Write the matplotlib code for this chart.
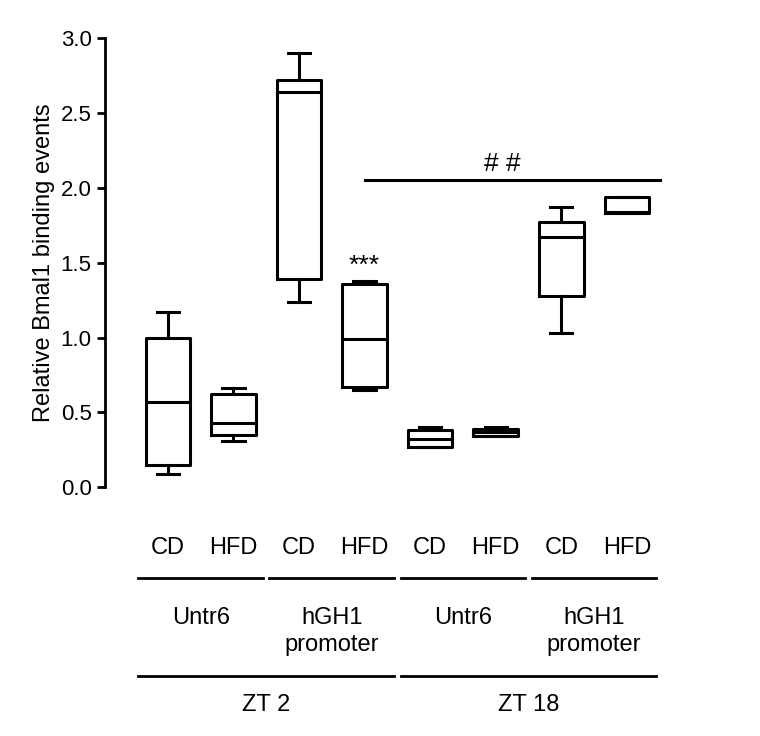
import matplotlib.pyplot as plt
from matplotlib.transforms import blended_transform_factory

diets = ["CD", "HFD", "CD", "HFD", "CD", "HFD", "CD", "HFD"]
whislo = [0.09, 0.31, 1.24, 0.65, 0.27, 0.34, 1.03, 1.83]
q1 = [0.15, 0.35, 1.39, 0.67, 0.27, 0.34, 1.28, 1.83]
med = [0.57, 0.43, 2.64, 0.99, 0.32, 0.37, 1.67, 1.84]
q3 = [1.00, 0.62, 2.72, 1.36, 0.38, 0.39, 1.77, 1.94]
whishi = [1.17, 0.66, 2.90, 1.38, 0.40, 0.40, 1.87, 1.94]
regions = ["Untr6", "hGH1\npromoter", "Untr6", "hGH1\npromoter"]
timepoints = ["ZT 2", "ZT 18"]

plt.rcParams["font.family"] = "Liberation Sans"
fig = plt.figure(figsize=(7.6, 7.36), dpi=100)
ax = fig.add_axes([0.138, 0.338, 0.73, 0.61])

stats = [dict(whislo=a, q1=b, med=c, q3=d, whishi=e)
         for a, b, c, d, e in zip(whislo, q1, med, q3, whishi)]
pos = list(range(1, 9))
ax.bxp(stats, positions=pos, widths=0.68, showfliers=False,
       boxprops=dict(lw=2.2, color="black"), medianprops=dict(lw=2.2, color="black"),
       whiskerprops=dict(lw=2.2, color="black"), capprops=dict(lw=2.2, color="black"))

ax.set_xlim(0.04, 8.5)
ax.set_ylim(0, 3.0)
ax.set_yticks([0, 0.5, 1.0, 1.5, 2.0, 2.5, 3.0])
ax.set_yticklabels([f"{v:.1f}" for v in [0, 0.5, 1.0, 1.5, 2.0, 2.5, 3.0]])
ax.tick_params(axis="y", labelsize=16, width=2, length=6)
ax.set_xticks([])
for s in ["top", "right", "bottom"]:
    ax.spines[s].set_visible(False)
ax.spines["left"].set_linewidth(2)
ax.set_ylabel("Relative Bmal1 binding events", fontsize=17)

# significance marks
ax.plot([4, 8.5], [2.05, 2.05], color="black", lw=2.2, clip_on=False)
ax.text(6.1, 2.08, "# #", ha="center", va="bottom", fontsize=19)
ax.text(4, 1.40, "***", ha="center", va="bottom", fontsize=19)

tr = blended_transform_factory(ax.transData, fig.transFigure)
for p, d in zip(pos, diets):
    ax.text(p, 0.255, d, transform=tr, ha="center", va="center", fontsize=17)
for i, r in enumerate(regions):
    a, b = pos[2 * i], pos[2 * i + 1]
    ax.plot([a - 0.45, b + 0.45], [0.215, 0.215], transform=tr, color="black", lw=2, clip_on=False)
    ax.text((a + b) / 2, 0.175, r, transform=tr, ha="center", va="top", fontsize=17, linespacing=1.3)
for i, t in enumerate(timepoints):
    a, b = pos[4 * i], pos[4 * i + 3]
    ax.plot([a - 0.45, b + 0.45], [0.082, 0.082], transform=tr, color="black", lw=2, clip_on=False)
    ax.text((a + b) / 2, 0.042, t, transform=tr, ha="center", va="center", fontsize=17)

fig.savefig("out.png")
